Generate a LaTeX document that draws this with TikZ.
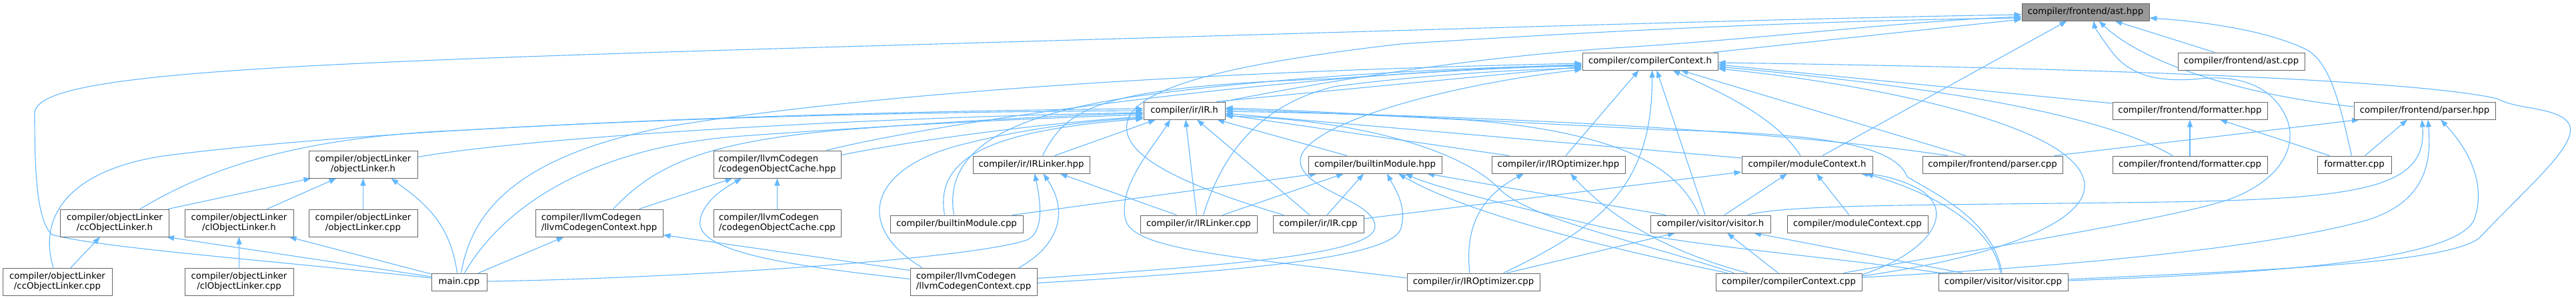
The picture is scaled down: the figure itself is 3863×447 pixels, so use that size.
\documentclass[tikz,border=0pt]{standalone}
\usepackage{fontspec}
\setmainfont{DejaVu Sans}
\usetikzlibrary{arrows.meta,calc}
\definecolor{edgeblue}{HTML}{63B8FF}
\definecolor{boxgray}{HTML}{666666}
\definecolor{rootfill}{HTML}{999999}
\pgfdeclarelayer{bg}
\pgfdeclarelayer{paper}
\pgfsetlayers{paper,bg,main}
\begin{document}
\begin{tikzpicture}[x=1pt,y=-1pt,
  box/.style={draw=boxgray, line width=1pt, fill=white, inner sep=0pt, minimum height=26pt, font=\fontsize{13.3pt}{15pt}\selectfont, text=black},
  tall/.style={box, minimum height=41pt, align=center},
  tallL/.style={box, minimum height=41pt, align=left},
  edge/.style={draw=edgeblue, line width=1.1pt, -{Triangle[length=11pt,width=8pt]}}]
\begin{pgfonlayer}{paper}
\fill[white] (0,0) rectangle (3863,447);
\end{pgfonlayer}
\useasboundingbox (0,0) rectangle (3863,447);
% row 0
\node[box, fill=rootfill, minimum width=191pt] (ast) at (3127.5,18) {compiler/frontend/ast.hpp};
% row 1
\node[box, minimum width=203pt] (cch) at (2474.5,92) {compiler/compilerContext.h};
\node[box, minimum width=190pt] (astcpp) at (3361,92) {compiler/frontend/ast.cpp};
% row 2
\node[box, minimum width=122pt] (irh) at (1776,166) {compiler/ir/IR.h};
\node[box, minimum width=232pt] (fmth) at (3284,166) {compiler/frontend/formatter.hpp};
\node[box, minimum width=212pt] (parh) at (3636,166) {compiler/frontend/parser.hpp};
% row 3
\node[tall, minimum width=163pt] (olh) at (544.5,246.5) {compiler/objectLinker\\/objectLinker.h};
\node[tallL, minimum width=191pt] (coch) at (1165.5,246.5) {compiler/llvmCodegen\\/codegenObjectCache.hpp};
\node[box, minimum width=175pt] (irlh) at (1546.5,247) {compiler/ir/IRLinker.hpp};
\node[box, minimum width=200pt] (bmh) at (2062,247) {compiler/builtinModule.hpp};
\node[box, minimum width=200pt] (iroh) at (2337,247) {compiler/ir/IROptimizer.hpp};
\node[box, minimum width=196pt] (mch) at (2710,247) {compiler/moduleContext.h};
\node[box, minimum width=210pt] (parcpp) at (2988,247) {compiler/frontend/parser.cpp};
\node[box, minimum width=232pt] (fmtcpp) at (3284,247) {compiler/frontend/formatter.cpp};
\node[box, minimum width=111pt] (fmtroot) at (3530.5,247) {formatter.cpp};
% row 4
\node[tall, minimum width=163pt] (cclh) at (172,334.5) {compiler/objectLinker\\/ccObjectLinker.h};
\node[tall, minimum width=163pt] (clolh) at (358.5,334.5) {compiler/objectLinker\\/clObjectLinker.h};
\node[tall, minimum width=163pt] (olcpp) at (544.5,334.5) {compiler/objectLinker\\/objectLinker.cpp};
\node[tallL, minimum width=191pt] (lcch) at (898.5,334.5) {compiler/llvmCodegen\\/llvmCodegenContext.hpp};
\node[tallL, minimum width=191pt] (coccpp) at (1165.5,334.5) {compiler/llvmCodegen\\/codegenObjectCache.cpp};
\node[box, minimum width=199pt] (bmcpp) at (1434.5,336) {compiler/builtinModule.cpp};
\node[box, minimum width=175pt] (irlcpp) at (1797.5,336) {compiler/ir/IRLinker.cpp};
\node[box, minimum width=136pt] (ircpp) at (1977,336) {compiler/ir/IR.cpp};
\node[box, minimum width=180pt] (vish) at (2565,336) {compiler/visitor/visitor.h};
\node[box, minimum width=211pt] (mccpp) at (2785.5,336) {compiler/moduleContext.cpp};
% row 5
\node[tall, minimum width=164pt] (cclcpp) at (86,422.5) {compiler/objectLinker\\/ccObjectLinker.cpp};
\node[tall, minimum width=163pt] (clolcpp) at (358.5,422.5) {compiler/objectLinker\\/clObjectLinker.cpp};
\node[box, minimum width=83pt] (main) at (688.5,423) {main.cpp};
\node[tallL, minimum width=190pt] (lcccpp) at (1460,422.5) {compiler/llvmCodegen\\/llvmCodegenContext.cpp};
\node[box, minimum width=199pt] (irocpp) at (2209.5,423) {compiler/ir/IROptimizer.cpp};
\node[box, minimum width=219pt] (cccpp) at (2682.5,423) {compiler/compilerContext.cpp};
\node[box, minimum width=194pt] (viscpp) at (3004,423) {compiler/visitor/visitor.cpp};

\begin{pgfonlayer}{bg}
% ---- into ast.hpp
\draw[edge] ($(cch.north)+(95,0)$) -- ($(ast.west)+(0,11)$);
\draw[edge] ($(main.west)+(0,-6)$) .. controls (400,390) and (150,372) .. (78,352) .. controls (54,330) and (52,250) .. (52,170) .. controls (52,110) and (400,95) .. (1300,69) .. controls (2100,46) and (2700,27) .. ($(ast.west)+(0,4)$);
\draw[edge] ($(irh.north)+(58,0)$) .. controls (2100,100) and (2300,80) .. (2420,72) .. controls (2650,58) and (2850,32) .. ($(ast.west)+(0,7)$);
\draw[edge] ($(ircpp.north)+(-52,0)$) .. controls (1800,285) and (1680,240) .. (1690,185) .. controls (1700,130) and (1850,95) .. (2100,66) .. controls (2500,40) and (2800,30) .. ($(ast.west)+(0,9)$);
\draw[edge] ($(mch.north)+(23,0)$) -- ($(ast.south)+(-28,0)$);
\draw[edge] ($(cccpp.north)+(82,0)$) .. controls (2900,385) and (3250,330) .. (3340,300) .. controls (3420,272) and (3445,220) .. (3430,180) .. controls (3410,130) and (3360,112) .. (3300,118) .. controls (3230,125) and (3190,110) .. (3165,75) .. controls (3150,55) and (3141,40) .. ($(ast.south)+(12,0)$);
\draw[edge] ($(parh.west)+(0,-6)$) .. controls (3380,145) and (3220,100) .. ($(ast.south)+(20,0)$);
\draw[edge] ($(astcpp.north)+(-40,0)$) -- ($(ast.south)+(44,0)$);
\draw[edge] ($(fmtroot.north)+(-4,0)$) .. controls (3510,160) and (3495,95) .. (3460,75) .. controls (3400,45) and (3300,32) .. ($(ast.east)+(0,9)$);
% ---- into compilerContext.h
\draw[edge] ($(main.north)+(3,0)$) .. controls (710,300) and (800,230) .. (1000,190) .. controls (1400,125) and (2000,103) .. ($(cch.west)+(0,3)$);
\draw[edge] ($(irh.north)+(48,0)$) -- ($(cch.west)+(0,8)$);
\draw[edge] ($(irlh.north)+(17,0)$) .. controls (1600,160) and (1650,130) .. (2000,118) .. controls (2200,104) and (2300,100) .. ($(cch.west)+(0,7)$);
\draw[edge] ($(irlcpp.north)+(7,0)$) .. controls (1830,240) and (1880,160) .. (2000,130) .. controls (2150,110) and (2300,104) .. ($(cch.west)+(0,10)$);
\draw[edge] ($(bmcpp.north)+(-4,0)$) .. controls (1415,230) and (1500,175) .. (1700,145) .. controls (1950,110) and (2250,100) .. ($(cch.west)+(0,6)$);
\draw[edge] ($(lcccpp.east)+(0,-5)$) .. controls (1800,400) and (2062,385) .. (2062,340) .. controls (2062,300) and (1948,285) .. (1950,240) .. controls (1952,190) and (2150,130) .. ($(cch.west)+(0,12)$);
\draw[edge] ($(coch.north)+(74,0)$) .. controls (1400,185) and (1900,112) .. ($(cch.west)+(0,5)$);
\draw[edge] ($(iroh.north)+(11,0)$) -- ($(cch.south)+(-17,0)$);
\draw[edge] ($(irocpp.north)+(45,0)$) .. controls (2400,340) and (2478,280) .. ($(cch.south)+(3,0)$);
\draw[edge] ($(vish.north)+(-8,0)$) -- ($(cch.south)+(10,0)$);
\draw[edge] ($(mch.north)+(-10,0)$) .. controls (2660,170) and (2560,130) .. ($(cch.south)+(34,0)$);
\draw[edge] ($(parcpp.north)+(-40,0)$) -- ($(cch.south)+(46,0)$);
\draw[edge] ($(fmth.west)+(0,-11)$) -- ($(cch.east)+(0,5)$);
\draw[edge] ($(fmtcpp.north)+(-26,0)$) .. controls (3150,170) and (2900,130) .. ($(cch.east)+(0,8)$);
\draw[edge] ($(cccpp.east)+(0,-9)$) .. controls (3000,385) and (3140,330) .. (3125,270) .. controls (3105,185) and (2800,125) .. ($(cch.east)+(0,11)$);
\draw[edge] ($(viscpp.east)+(0,-4)$) .. controls (3400,405) and (3680,395) .. (3720,355) .. controls (3790,280) and (3870,215) .. (3852,185) .. controls (3835,160) and (3775,165) .. (3745,148) .. controls (3600,115) and (3000,100) .. ($(cch.east)+(0,2)$);
% ---- into IR.h
\draw[edge] ($(cclcpp.north)+(-6,0)$) .. controls (55,320) and (110,250) .. (260,232) .. controls (600,190) and (1200,168) .. ($(irh.west)+(0,-3)$);
\draw[edge] ($(cclh.north)+(38,0)$) .. controls (300,260) and (430,205) .. (700,195) .. controls (1100,172) and (1500,167) .. ($(irh.west)+(0,0)$);
\draw[edge] ($(olh.east)+(0,-11)$) .. controls (800,205) and (1300,176) .. ($(irh.west)+(0,3)$);
\draw[edge] ($(main.north)+(8,0)$) .. controls (760,300) and (900,222) .. (1100,205) .. controls (1400,183) and (1600,176) .. ($(irh.west)+(0,6)$);
\draw[edge] ($(lcch.north)+(21,0)$) .. controls (980,250) and (1050,215) .. (1250,196) .. controls (1450,180) and (1600,173) .. ($(irh.west)+(0,4)$);
\draw[edge] ($(coch.east)+(0,-14)$) .. controls (1400,205) and (1600,182) .. ($(irh.west)+(0,9)$);
\draw[edge] ($(lcccpp.north)+(-77,0)$) .. controls (1280,340) and (1300,250) .. (1450,215) .. controls (1550,190) and (1650,180) .. ($(irh.west)+(0,11)$);
\draw[edge] ($(bmcpp.north)+(-18,0)$) .. controls (1400,230) and (1500,195) .. ($(irh.west)+(0,12)$);
\draw[edge] ($(irlh.north)+(35,0)$) -- ($(irh.south)+(-43,0)$);
\draw[edge] ($(irocpp.west)+(0,-6)$) .. controls (1850,385) and (1700,375) .. (1688,330) .. controls (1675,280) and (1730,220) .. ($(irh.south)+(-21,0)$);
\draw[edge] ($(irlcpp.north)+(-3,0)$) -- ($(irh.south)+(2,0)$);
\draw[edge] ($(ircpp.north)+(-13,0)$) -- ($(irh.south)+(19,0)$);
\draw[edge] ($(bmh.north)+(-42,0)$) -- ($(irh.south)+(49,0)$);
\draw[edge] ($(iroh.north)+(-74,0)$) -- ($(irh.east)+(0,6)$);
\draw[edge] ($(mch.west)+(0,-10)$) -- ($(irh.east)+(0,4)$);
\draw[edge] ($(parcpp.north)+(-67,0)$) .. controls (2700,200) and (2300,175) .. ($(irh.east)+(0,1)$);
\draw[edge] ($(vish.north)+(-17,0)$) .. controls (2520,260) and (2450,200) .. (2200,180) .. controls (2050,172) and (1900,166) .. ($(irh.east)+(0,-2)$);
\draw[edge] ($(viscpp.north)+(-2,0)$) .. controls (2990,330) and (2900,290) .. (2860,265) .. controls (2840,215) and (2720,200) .. (2500,195) .. controls (2200,180) and (1950,165) .. ($(irh.east)+(0,-4)$);
\draw[edge] ($(cccpp.north)+(-82,0)$) .. controls (2450,360) and (2300,330) .. (2250,285) .. controls (2200,230) and (2050,180) .. ($(irh.east)+(0,8)$);
% ---- into objectLinker.h
\draw[edge] ($(cclh.north)+(80,0)$) -- ($(olh.south)+(-78,0)$);
\draw[edge] ($(clolh.north)+(42,0)$) -- ($(olh.south)+(-40,0)$);
\draw[edge] (olcpp) -- (olh);
\draw[edge] ($(main.north)+(-3,0)$) .. controls (675,330) and (630,300) .. ($(olh.south)+(42,0)$);
% ---- into ccObjectLinker.h / clObjectLinker.h
\draw[edge] ($(cclcpp.north)+(20,0)$) -- ($(cclh.south)+(-22,0)$);
\draw[edge] ($(main.west)+(0,-8)$) -- ($(cclh.south)+(78,0)$);
\draw[edge] ($(main.west)+(0,-12)$) -- ($(clolh.south)+(75,0)$);
\draw[edge] (clolcpp) -- (clolh);
% ---- into llvmCodegenContext.hpp
\draw[edge] ($(main.north)+(29,0)$) -- ($(lcch.south)+(-53,0)$);
\draw[edge] ($(lcccpp.west)+(0,-17)$) -- ($(lcch.east)+(0,18)$);
% ---- into codegenObjectCache.hpp
\draw[edge] ($(lcch.north)+(60,0)$) -- ($(coch.south)+(-67,0)$);
\draw[edge] (coccpp) -- (coch);
\draw[edge] ($(lcccpp.west)+(0,-4)$) .. controls (1200,400) and (1040,380) .. (1050,330) .. controls (1055,300) and (1090,280) .. ($(coch.south)+(-53,0)$);
% ---- into IRLinker.hpp
\draw[edge] ($(main.east)+(0,-1)$) .. controls (1000,418) and (1450,390) .. (1540,360) .. controls (1567,348) and (1560,300) .. ($(irlh.south)+(5,0)$);
\draw[edge] ($(lcccpp.north)+(68,0)$) .. controls (1585,370) and (1605,320) .. ($(irlh.south)+(18,0)$);
\draw[edge] ($(irlcpp.north)+(-33,0)$) -- ($(irlh.south)+(43,0)$);
% ---- into builtinModule.hpp
\draw[edge] ($(bmcpp.north)+(84,0)$) -- ($(bmh.south)+(-87,0)$);
\draw[edge] ($(irlcpp.north)+(36,0)$) -- ($(bmh.south)+(-47,0)$);
\draw[edge] ($(ircpp.north)+(13,0)$) -- ($(bmh.south)+(-17,0)$);
\draw[edge] ($(lcccpp.east)+(0,2)$) .. controls (1800,410) and (2078,392) .. (2100,345) .. controls (2112,310) and (2090,280) .. ($(bmh.south)+(18,0)$);
\draw[edge] ($(cccpp.north)+(-92,0)$) .. controls (2400,370) and (2200,320) .. ($(bmh.south)+(35,0)$);
\draw[edge] ($(viscpp.north)+(-94,0)$) .. controls (2750,385) and (2550,372) .. (2400,340) .. controls (2250,305) and (2150,280) .. ($(bmh.south)+(45,0)$);
\draw[edge] ($(vish.north)+(-67,0)$) -- ($(bmh.south)+(78,0)$);
% ---- into IROptimizer.hpp
\draw[edge] ($(irocpp.north)+(-5.5,0)$) .. controls (2195,330) and (2230,290) .. ($(iroh.south)+(-52,0)$);
\draw[edge] ($(cccpp.north)+(-62,0)$) .. controls (2490,375) and (2410,320) .. ($(iroh.south)+(18,0)$);
% ---- into moduleContext.h
\draw[edge] ($(ircpp.east)+(0,-8)$) -- ($(mch.west)+(0,11)$);
\draw[edge] ($(vish.north)+(21,0)$) -- ($(mch.south)+(-30,0)$);
\draw[edge] ($(mccpp.north)+(-12.5,0)$) -- ($(mch.south)+(14,0)$);
\draw[edge] ($(cccpp.east)+(0,-11)$) .. controls (2890,380) and (2935,320) .. (2880,285) .. controls (2850,268) and (2818,262) .. ($(mch.south)+(80,0)$);
\draw[edge] ($(viscpp.north)+(-4,0)$) .. controls (2990,340) and (2900,290) .. ($(mch.south)+(88,0)$);
% ---- into parser.hpp
\draw[edge] ($(parcpp.north)+(93,0)$) -- ($(parh.south)+(-98,0)$);
\draw[edge] ($(fmtroot.north)+(16,0)$) -- ($(parh.south)+(-26,0)$);
\draw[edge] ($(vish.north)+(56,0)$) .. controls (2680,306) and (2900,308) .. (3250,303) .. controls (3550,298) and (3640,280) .. ($(parh.south)+(-4,0)$);
\draw[edge] ($(cccpp.east)+(0,-7)$) .. controls (3100,400) and (3400,372) .. (3550,330) .. controls (3640,302) and (3646,240) .. ($(parh.south)+(5,0)$);
\draw[edge] ($(viscpp.east)+(0,-2)$) .. controls (3400,410) and (3680,392) .. (3710,330) .. controls (3730,275) and (3700,222) .. ($(parh.south)+(24,0)$);
% ---- into formatter.hpp
\draw[edge] (fmtcpp) -- (fmth);
\draw[edge] ($(fmtroot.north)+(-37,0)$) -- ($(fmth.south)+(45,0)$);
% ---- into visitor.h
\draw[edge] ($(irocpp.north)+(50,0)$) -- ($(vish.south)+(-53,0)$);
\draw[edge] ($(cccpp.north)+(-16,0)$) -- ($(vish.south)+(25,0)$);
\draw[edge] ($(viscpp.north)+(-61,0)$) -- ($(vish.south)+(65,0)$);
\end{pgfonlayer}
\end{tikzpicture}
\end{document}
